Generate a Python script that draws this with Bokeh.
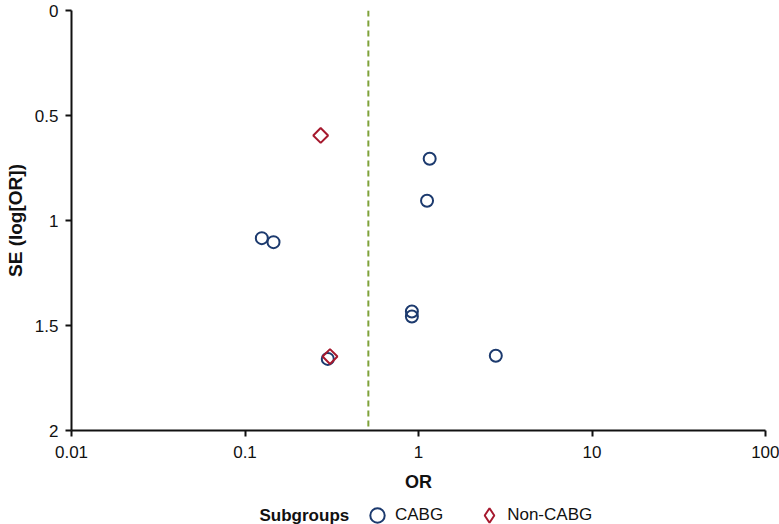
from bokeh.plotting import figure
from bokeh.layouts import column
from bokeh.models import (Range1d, FixedTicker, CustomJSTickFormatter, Legend, LegendItem,
                          Span, Label, ColumnDataSource)
from bokeh.embed import file_html
from bokeh.resources import INLINE

# Data
cabg_or = [1.16, 1.12, 0.125, 0.146, 0.916, 0.916, 0.30, 2.79]
cabg_se = [0.706, 0.906, 1.084, 1.103, 1.433, 1.457, 1.659, 1.644]
noncabg_or = [0.273, 0.309]
noncabg_se = [0.595, 1.648]
pooled_or = 0.514
x_ticks = [0.01, 0.1, 1, 10, 100]
y_ticks = [0, 0.5, 1, 1.5, 2]
legend_title = "Subgroups"
series_names = ["CABG", "Non-CABG"]

FONT = "Liberation Sans"
BLUE = "#1C3A6E"
RED = "#A6192E"
GREEN = "#7FA23A"
INK = "#111111"
FS = "17px"

p = figure(width=779, height=494, x_axis_type="log",
           x_range=Range1d(x_ticks[0], x_ticks[-1]), y_range=Range1d(y_ticks[-1], y_ticks[0]),
           output_backend="svg", toolbar_location=None,
           min_border_left=71, min_border_right=14, min_border_top=10, min_border_bottom=64)
p.outline_line_color = None
p.grid.visible = False
p.background_fill_color = "white"
p.border_fill_color = "white"

p.add_layout(Span(location=pooled_or, dimension="height", line_color=GREEN,
                  line_width=2, line_dash="6 4"))

src_c = ColumnDataSource(dict(x=cabg_or, y=cabg_se))
src_n = ColumnDataSource(dict(x=noncabg_or, y=noncabg_se))
circle_style = dict(marker="circle", size=12, fill_color=None, line_color=BLUE, line_width=2)
diamond_style = dict(marker="square", angle=0.785398, size=10.5, fill_color=None,
                     line_color=RED, line_width=2)
p.scatter("x", "y", source=src_c, **circle_style)
p.scatter("x", "y", source=src_n, **diamond_style)

fmt = CustomJSTickFormatter(code="return tick.toString();")
for ax, ticks, lab, lfs in ((p.xaxis[0], x_ticks, "OR", "18px"),
                            (p.yaxis[0], y_ticks, "SE (log[OR])", "19px")):
    ax.ticker = FixedTicker(ticks=ticks, minor_ticks=[])
    ax.formatter = fmt
    ax.axis_label = lab
    ax.axis_label_text_font = FONT
    ax.axis_label_text_font_style = "bold"
    ax.axis_label_text_font_size = lfs
    ax.axis_label_text_color = INK
    ax.major_label_text_font = FONT
    ax.major_label_text_font_size = FS
    ax.major_label_text_color = INK
    ax.axis_line_width = 2
    ax.axis_line_color = INK
    ax.major_tick_line_width = 2
    ax.major_tick_line_color = INK
    ax.major_tick_out = 6
    ax.major_tick_in = 0
    ax.minor_tick_out = 0
    ax.minor_tick_in = 0

p.xaxis[0].major_label_standoff = 9
p.xaxis[0].axis_label_standoff = 11
p.yaxis[0].major_label_standoff = 7
p.yaxis[0].axis_label_standoff = 6

# Legend strip below the chart (its frame lines up with the chart's frame)
q = figure(width=779, height=30, x_range=Range1d(-2, -1), y_range=Range1d(-2, -1),
           output_backend="svg", toolbar_location=None,
           min_border_left=71, min_border_right=14, min_border_top=0, min_border_bottom=0)
q.axis.visible = False
q.grid.visible = False
q.outline_line_color = None
q.background_fill_color = "white"
q.border_fill_color = "white"
l_c = q.scatter("x", "y", source=src_c, **circle_style)
l_n = q.scatter("x", "y", source=src_n, **dict(diamond_style, marker="diamond", angle=0))

legend = Legend(items=[LegendItem(label=series_names[0], renderers=[l_c]),
                       LegendItem(label=series_names[1], renderers=[l_n])],
                orientation="horizontal", location=(288, -9),
                label_text_font=FONT, label_text_font_size=FS, label_text_color=INK,
                border_line_color=None, background_fill_alpha=0,
                padding=0, margin=0, spacing=28, glyph_width=36, glyph_height=36,
                label_standoff=-6, label_height=36)
q.add_layout(legend)
q.add_layout(Label(x=188, y=9, x_units="screen", y_units="screen", text=legend_title,
                   text_font=FONT, text_font_style="bold", text_font_size=FS,
                   text_color=INK, text_baseline="middle"))

open("out.html", "w").write(file_html(column(p, q, spacing=0), INLINE))
